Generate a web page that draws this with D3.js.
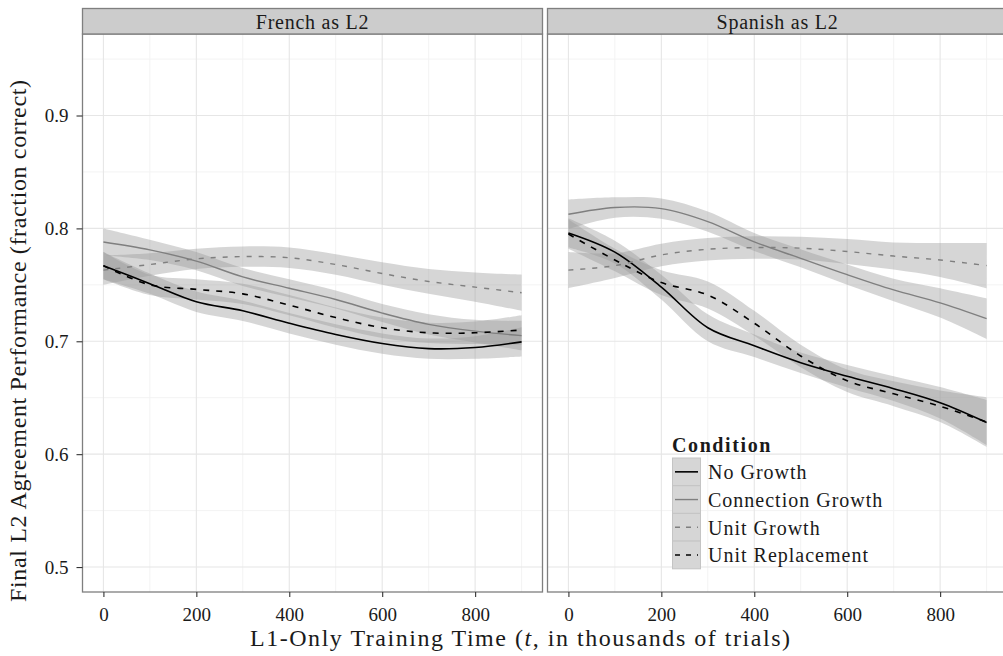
<!DOCTYPE html>
<html>
<head>
<meta charset="utf-8">
<script src="https://cdn.jsdelivr.net/npm/d3@7"></script>
<style>
  body { margin: 0; background: #fff; }
  text { font-family: "Liberation Serif", "DejaVu Serif", serif; fill: #1a1a1a; }
</style>
</head>
<body>
<svg id="chart" width="1003" height="656"></svg>
<script>
// x positions of the smoothed curves (thousands of trials)
const trainTime = [0, 100, 200, 300, 400, 500, 600, 700, 800, 900];
const facets = ["French as L2", "Spanish as L2"];
const conditions = ["No Growth", "Connection Growth", "Unit Growth", "Unit Replacement"];
const xTicks = [0, 200, 400, 600, 800];
const yTicks = [0.5, 0.6, 0.7, 0.8, 0.9];

// French as L2: fitted values and half width of the band
const frenchNoGrowth     = [0.767, 0.751, 0.735, 0.727, 0.716, 0.706, 0.698, 0.6935, 0.6945, 0.6995];
const frenchConnGrowth   = [0.788, 0.781, 0.771, 0.757, 0.747, 0.737, 0.725, 0.715, 0.709, 0.705];
const frenchUnitGrowth   = [0.763, 0.768, 0.773, 0.775, 0.774, 0.768, 0.760, 0.753, 0.748, 0.743];
const frenchUnitReplace  = [0.767, 0.750, 0.746, 0.742, 0.732, 0.721, 0.712, 0.7075, 0.7075, 0.710];
const frenchNoGrowthSe   = [0.012, 0.009, 0.009, 0.009, 0.009, 0.009, 0.009, 0.009, 0.010, 0.013];
const frenchConnGrowthSe = [0.012, 0.009, 0.008, 0.008, 0.008, 0.008, 0.008, 0.009, 0.010, 0.013];
const frenchUnitGrowthSe = [0.013, 0.010, 0.009, 0.009, 0.009, 0.009, 0.010, 0.011, 0.013, 0.016];
const frenchUnitReplSe   = [0.012, 0.009, 0.009, 0.009, 0.009, 0.009, 0.009, 0.009, 0.010, 0.013];

// Spanish as L2
const spanishNoGrowth     = [0.796, 0.779, 0.748, 0.712, 0.696, 0.681, 0.669, 0.658, 0.6455, 0.628];
const spanishConnGrowth   = [0.8125, 0.8185, 0.8175, 0.806, 0.788, 0.7735, 0.759, 0.7455, 0.734, 0.720];
const spanishUnitGrowth   = [0.763, 0.767, 0.7765, 0.7815, 0.783, 0.7825, 0.7795, 0.7755, 0.772, 0.767];
const spanishUnitReplace  = [0.795, 0.772, 0.752, 0.741, 0.716, 0.687, 0.665, 0.6535, 0.6425, 0.6285];
const spanishNoGrowthSe   = [0.013, 0.010, 0.011, 0.012, 0.010, 0.009, 0.010, 0.011, 0.014, 0.020];
const spanishConnGrowthSe = [0.013, 0.009, 0.009, 0.009, 0.008, 0.008, 0.009, 0.010, 0.013, 0.018];
const spanishUnitGrowthSe = [0.016, 0.011, 0.010, 0.010, 0.010, 0.010, 0.011, 0.012, 0.015, 0.020];
const spanishUnitReplSe   = [0.013, 0.010, 0.011, 0.012, 0.011, 0.010, 0.010, 0.011, 0.014, 0.022];

const fits = [
  [frenchNoGrowth, frenchConnGrowth, frenchUnitGrowth, frenchUnitReplace],
  [spanishNoGrowth, spanishConnGrowth, spanishUnitGrowth, spanishUnitReplace]
];
const bands = [
  [frenchNoGrowthSe, frenchConnGrowthSe, frenchUnitGrowthSe, frenchUnitReplSe],
  [spanishNoGrowthSe, spanishConnGrowthSe, spanishUnitGrowthSe, spanishUnitReplSe]
];

// line style per condition
const lineColor = ["#000000", "#7f7f7f", "#7f7f7f", "#000000"];
const lineDash  = [null, null, "5,7", "6,7"];
const lineWidth = [1.6, 1.4, 1.4, 1.6];

const svg = d3.select("#chart");
const panelTop = 34, panelBottom = 592;
const panelLeft = [82.5, 547.5];
const panelW = 460;

const y = d3.scaleLinear().domain([0.4779, 0.9722]).range([panelBottom, panelTop]);

facets.forEach((name, f) => {
  const x = d3.scaleLinear().domain([-45, 945]).range([panelLeft[f], panelLeft[f] + panelW]);
  const g = svg.append("g");

  g.append("clipPath").attr("id", "clip" + f)
    .append("rect").attr("x", panelLeft[f]).attr("y", panelTop)
    .attr("width", panelW).attr("height", panelBottom - panelTop);

  // grid
  const minorX = [100, 300, 500, 700, 900];
  const minorY = [0.55, 0.65, 0.75, 0.85, 0.95];
  g.selectAll(".mx").data(minorX).enter().append("line")
    .attr("x1", d => x(d)).attr("x2", d => x(d))
    .attr("y1", panelTop).attr("y2", panelBottom)
    .attr("stroke", "#f3f3f3").attr("stroke-width", 1);
  g.selectAll(".my").data(minorY).enter().append("line")
    .attr("x1", panelLeft[f]).attr("x2", panelLeft[f] + panelW)
    .attr("y1", d => y(d)).attr("y2", d => y(d))
    .attr("stroke", "#f3f3f3").attr("stroke-width", 1);
  g.selectAll(".gx").data(xTicks).enter().append("line")
    .attr("x1", d => x(d)).attr("x2", d => x(d))
    .attr("y1", panelTop).attr("y2", panelBottom)
    .attr("stroke", "#e6e6e6").attr("stroke-width", 1.1);
  g.selectAll(".gy").data(yTicks).enter().append("line")
    .attr("x1", panelLeft[f]).attr("x2", panelLeft[f] + panelW)
    .attr("y1", d => y(d)).attr("y2", d => y(d))
    .attr("stroke", "#e6e6e6").attr("stroke-width", 1.1);

  const plot = g.append("g").attr("clip-path", "url(#clip" + f + ")");

  // confidence ribbons
  conditions.forEach((c, i) => {
    const rows = trainTime.map((t, k) => ({ t: t, v: fits[f][i][k], se: bands[f][i][k] }));
    const area = d3.area()
      .x(d => x(d.t))
      .y0(d => y(d.v - d.se))
      .y1(d => y(d.v + d.se))
      .curve(d3.curveCatmullRom.alpha(0.5));
    plot.append("path").datum(rows)
      .attr("d", area)
      .attr("fill", "#999999")
      .attr("fill-opacity", 0.4);
  });

  // fitted lines
  conditions.forEach((c, i) => {
    const rows = trainTime.map((t, k) => ({ t: t, v: fits[f][i][k] }));
    const line = d3.line()
      .x(d => x(d.t))
      .y(d => y(d.v))
      .curve(d3.curveCatmullRom.alpha(0.5));
    plot.append("path").datum(rows)
      .attr("d", line)
      .attr("fill", "none")
      .attr("stroke", lineColor[i])
      .attr("stroke-width", lineWidth[i])
      .attr("stroke-dasharray", lineDash[i]);
  });

  // panel border
  g.append("rect")
    .attr("x", panelLeft[f]).attr("y", panelTop)
    .attr("width", panelW).attr("height", panelBottom - panelTop)
    .attr("fill", "none").attr("stroke", "#7f7f7f").attr("stroke-width", 1.3);

  // strip
  g.append("rect")
    .attr("x", panelLeft[f]).attr("y", 8.5)
    .attr("width", panelW).attr("height", panelTop - 8.5)
    .attr("fill", "#cccccc").attr("stroke", "#7f7f7f").attr("stroke-width", 1.3);
  g.append("text")
    .attr("x", panelLeft[f] + panelW / 2).attr("y", 29)
    .attr("text-anchor", "middle")
    .attr("font-size", 20)
    .attr("letter-spacing", 0.75)
    .text(name);

  // x axis
  const xAxis = d3.axisBottom(x).tickValues(xTicks).tickSize(5).tickPadding(11)
    .tickFormat(d3.format("d"));
  const ax = g.append("g").attr("transform", "translate(0," + panelBottom + ")").call(xAxis);
  ax.select(".domain").remove();
  ax.selectAll("line").attr("stroke", "#333").attr("stroke-width", 1.1);
  ax.selectAll("text").attr("font-size", 19).attr("fill", "#222").attr("font-family", "Liberation Serif");
});

// y axis on the left panel
const yAxis = d3.axisLeft(y).tickValues(yTicks).tickSize(6).tickPadding(8)
  .tickFormat(d3.format(".1f"));
const ay = svg.append("g").attr("transform", "translate(" + panelLeft[0] + ",0)").call(yAxis);
ay.select(".domain").remove();
ay.selectAll("line").attr("stroke", "#333").attr("stroke-width", 1.1);
ay.selectAll("text").attr("font-size", 19).attr("fill", "#222").attr("font-family", "Liberation Serif");

// axis titles
svg.append("text")
  .attr("x", 520).attr("y", 646)
  .attr("text-anchor", "middle")
  .attr("font-size", 24)
  .attr("textLength", 540)
  .attr("lengthAdjust", "spacing")
  .html("L1-Only Training Time (<tspan font-style='italic'>t</tspan>, in thousands of trials)");

svg.append("text")
  .attr("transform", "translate(26,341) rotate(-90)")
  .attr("text-anchor", "middle")
  .attr("font-size", 24)
  .attr("textLength", 522)
  .attr("lengthAdjust", "spacing")
  .text("Final L2 Agreement Performance (fraction correct)");

// legend
const legend = svg.append("g").attr("transform", "translate(672,430)");
legend.append("text")
  .attr("x", 0).attr("y", 22)
  .attr("font-size", 20).attr("font-weight", "bold")
  .attr("letter-spacing", 1.6)
  .text("Condition");
const keyH = 27.7;
conditions.forEach((c, i) => {
  const ky = 28 + i * keyH;
  legend.append("rect")
    .attr("x", 0.5).attr("y", ky).attr("width", 28).attr("height", keyH)
    .attr("fill", "#d6d6d6").attr("stroke", "#c4c4c4").attr("stroke-width", 1);
  legend.append("line")
    .attr("x1", 3).attr("x2", 26).attr("y1", ky + keyH / 2).attr("y2", ky + keyH / 2)
    .attr("stroke", lineColor[i]).attr("stroke-width", lineWidth[i])
    .attr("stroke-dasharray", lineDash[i] ? "5,6" : null);
  legend.append("text")
    .attr("x", 36).attr("y", ky + keyH / 2 + 7.5)
    .attr("font-size", 20)
    .attr("letter-spacing", 1)
    .text(c);
});
</script>
</body>
</html>
